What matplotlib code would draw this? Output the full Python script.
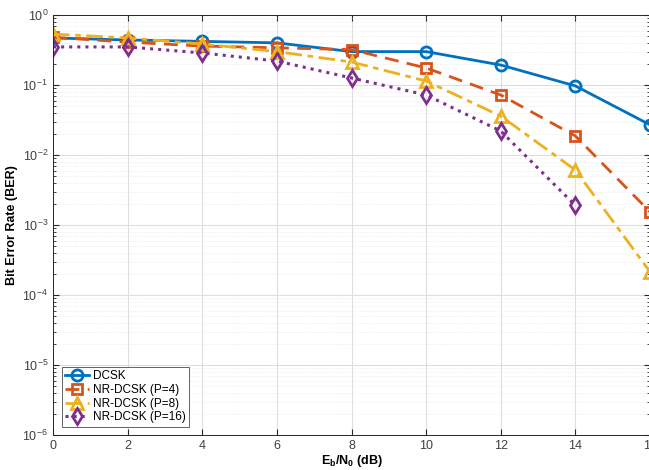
import matplotlib
matplotlib.use("Agg")
import matplotlib.pyplot as plt
from matplotlib.ticker import LogLocator, NullFormatter, MultipleLocator

plt.rcParams['font.family'] = ['Liberation Sans', 'DejaVu Sans']
plt.rcParams['mathtext.fontset'] = 'custom'
plt.rcParams['mathtext.rm'] = 'Liberation Sans'
plt.rcParams['mathtext.bf'] = 'Liberation Sans:bold'
plt.rcParams['mathtext.it'] = 'Liberation Sans:italic'

# Eb/N0 values (dB)
snr = [0, 2, 4, 6, 8, 10, 12, 14, 16]
snr_p16 = [0, 2, 4, 6, 8, 10, 12, 14]

# BER curves
ber_dcsk = [0.47, 0.44, 0.42, 0.40, 0.30, 0.30, 0.193, 0.097, 0.027]
ber_p4 = [0.48, 0.41, 0.36, 0.34, 0.32, 0.175, 0.072, 0.0187, 0.00154]
ber_p8 = [0.535, 0.47, 0.385, 0.30, 0.213, 0.114, 0.036, 0.0061, 0.000214]
ber_p16 = [0.35, 0.35, 0.287, 0.22, 0.126, 0.072, 0.022, 0.0019]

labels = ['DCSK', 'NR-DCSK (P=4)', 'NR-DCSK (P=8)', 'NR-DCSK (P=16)']

fig = plt.figure(figsize=(6.49, 4.70), dpi=100)
ax = fig.add_axes([53 / 649, 35 / 470, 597 / 649, 420 / 470])

ax.plot(snr, ber_dcsk, '-o', color='#0072BD', lw=2, ms=8, mew=2,
        mfc='none', label=labels[0])
ax.plot(snr, ber_p4, '--s', color='#D95319', lw=2, ms=7, mew=2,
        mfc='none', label=labels[1], dashes=(5, 3))
ax.plot(snr, ber_p8, '-.^', color='#EDB120', lw=2, ms=9, mew=2,
        mfc='none', label=labels[2], dashes=(6, 2, 2, 2))
ax.plot(snr_p16, ber_p16, ':d', color='#7E2F8E', lw=2.2, ms=8, mew=2,
        mfc='none', label=labels[3])

ax.set_yscale('log')
ax.set_ylim(1e-6, 1)
ax.set_xlim(0, 16)
ax.xaxis.set_major_locator(MultipleLocator(2))
ax.yaxis.set_major_locator(LogLocator(base=10, numticks=10))
ax.yaxis.set_minor_locator(LogLocator(base=10, subs=range(2, 10), numticks=100))
ax.yaxis.set_minor_formatter(NullFormatter())

ax.grid(True, which='major', color='#dedede', lw=0.8)
ax.grid(True, which='minor', axis='y', color='#e8e8e8', lw=0.6, ls=':')
ax.set_axisbelow(True)

ax.tick_params(which='both', direction='in', top=True, right=True,
               labelsize=9, colors='#262626', labelcolor='#404040')
ax.tick_params(which='major', length=4)
ax.tick_params(which='minor', length=2)
for s in ax.spines.values():
    s.set_color('#262626')
    s.set_linewidth(0.7)

ax.set_xlabel(r'$\mathbf{E_b/N_0}$ (dB)', fontsize=9, fontweight='bold', labelpad=1)
ax.set_ylabel('Bit Error Rate (BER)', fontsize=9, fontweight='bold', labelpad=3)

leg = ax.legend(loc='lower left', fontsize=8.5, handlelength=2.0, handletextpad=0.3,
                labelspacing=0.15, borderpad=0.3, fancybox=False, framealpha=1,
                bbox_to_anchor=(0.005, 0.005))
leg.get_frame().set_edgecolor('#262626')
leg.get_frame().set_linewidth(0.5)

fig.savefig('out.png', dpi=100)
